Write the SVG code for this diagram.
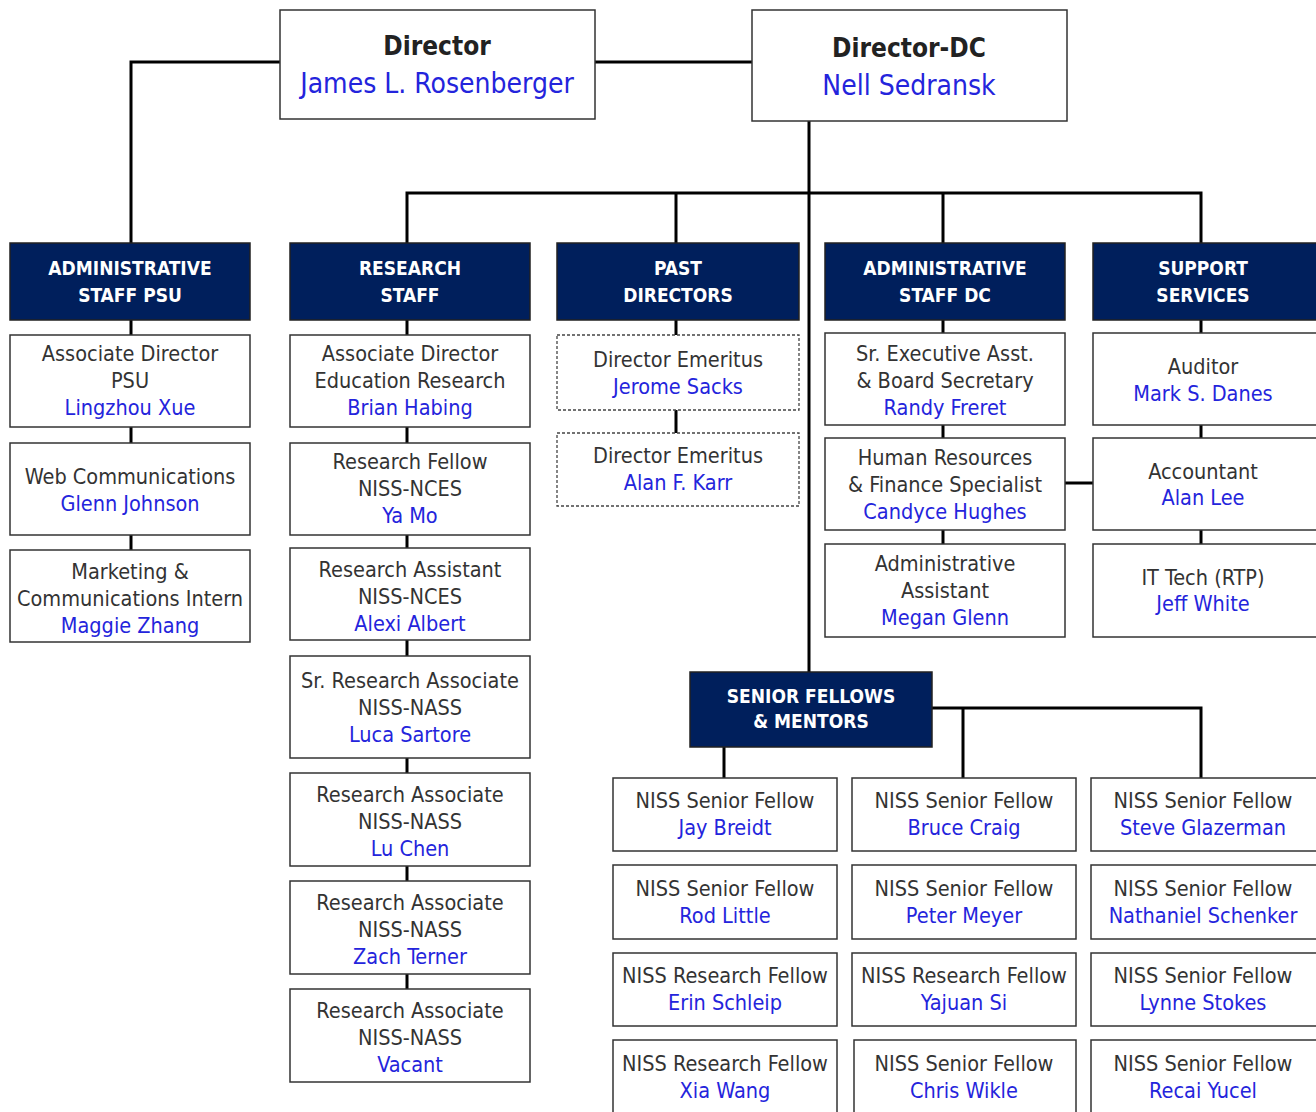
<svg xmlns="http://www.w3.org/2000/svg" width="1316" height="1112" viewBox="0 0 1316 1112">
<style>
.box{fill:#fff;stroke:#333;stroke-width:1.5}
.dash{fill:#fff;stroke:#444;stroke-width:1.3;stroke-dasharray:3 2}
.hdr{fill:#001f5c;stroke:#222;stroke-width:1.5}
.c{fill:none;stroke:#000;stroke-width:3}
text{font-family:"DejaVu Sans Condensed","DejaVu Sans",sans-serif;text-anchor:middle}
.t{font-size:21.5px;fill:#333}
.n{font-size:21.5px;fill:#2424dc}
.h{font-size:19px;fill:#fff;font-weight:bold}
.dt{font-size:26px;fill:#222;font-weight:bold}
.dn{font-size:28px;fill:#2424dc}
</style>
<g id="connectors">
<path class="c" d="M280 62H131V243M595 62H752M809 121V672M407 243V193H1201V243M676 193V243M943 193V243"/>
<path class="c" d="M131 320V335M131 427V443M131 535V550"/>
<path class="c" d="M407 320V335M407 427V443M407 535V548M407 640V656M407 758V773M407 866V881M407 974V989"/>
<path class="c" d="M676 320V335M676 410V433"/>
<path class="c" d="M943 320V333M943 425V438M943 530V544M1065 483H1093"/>
<path class="c" d="M1201 320V333M1201 425V438M1201 530V544"/>
<path class="c" d="M724 747V778M932 708H1201V778M963 708V778"/>
</g>
<g id="director"><rect class="box" x="280" y="10" width="315" height="109"/><text class="dt" x="437" y="55">Director</text><text class="dn" x="437" y="93">James L. Rosenberger</text></g>
<g id="director-dc"><rect class="box" x="752" y="10" width="315" height="111"/><text class="dt" x="909" y="57">Director-DC</text><text class="dn" x="909" y="95">Nell Sedransk</text></g>

<g id="hdr-admin-psu"><rect class="hdr" x="10" y="243" width="240" height="77"/><text class="h" x="130" y="275">ADMINISTRATIVE</text><text class="h" x="130" y="302">STAFF PSU</text></g>
<g id="hdr-research"><rect class="hdr" x="290" y="243" width="240" height="77"/><text class="h" x="410" y="275">RESEARCH</text><text class="h" x="410" y="302">STAFF</text></g>
<g id="hdr-past"><rect class="hdr" x="557" y="243" width="242" height="77"/><text class="h" x="678" y="275">PAST</text><text class="h" x="678" y="302">DIRECTORS</text></g>
<g id="hdr-admin-dc"><rect class="hdr" x="825" y="243" width="240" height="77"/><text class="h" x="945" y="275">ADMINISTRATIVE</text><text class="h" x="945" y="302">STAFF DC</text></g>
<g id="hdr-support"><rect class="hdr" x="1093" y="243" width="240" height="77"/><text class="h" x="1203" y="275">SUPPORT</text><text class="h" x="1203" y="302">SERVICES</text></g>

<g id="psu-1"><rect class="box" x="10" y="335" width="240" height="92"/><text class="t" x="130" y="361">Associate Director</text><text class="t" x="130" y="388">PSU</text><text class="n" x="130" y="415">Lingzhou Xue</text></g>
<g id="psu-2"><rect class="box" x="10" y="443" width="240" height="92"/><text class="t" x="130" y="484">Web Communications</text><text class="n" x="130" y="511">Glenn Johnson</text></g>
<g id="psu-3"><rect class="box" x="10" y="550" width="240" height="92"/><text class="t" x="130" y="579">Marketing &amp;</text><text class="t" x="130" y="606">Communications Intern</text><text class="n" x="130" y="633">Maggie Zhang</text></g>

<g id="rs-1"><rect class="box" x="290" y="335" width="240" height="92"/><text class="t" x="410" y="361">Associate Director</text><text class="t" x="410" y="388">Education Research</text><text class="n" x="410" y="415">Brian Habing</text></g>
<g id="rs-2"><rect class="box" x="290" y="443" width="240" height="92"/><text class="t" x="410" y="469">Research Fellow</text><text class="t" x="410" y="496">NISS-NCES</text><text class="n" x="410" y="523">Ya Mo</text></g>
<g id="rs-3"><rect class="box" x="290" y="548" width="240" height="92"/><text class="t" x="410" y="577">Research Assistant</text><text class="t" x="410" y="604">NISS-NCES</text><text class="n" x="410" y="631">Alexi Albert</text></g>
<g id="rs-4"><rect class="box" x="290" y="656" width="240" height="102"/><text class="t" x="410" y="688">Sr. Research Associate</text><text class="t" x="410" y="715">NISS-NASS</text><text class="n" x="410" y="742">Luca Sartore</text></g>
<g id="rs-5"><rect class="box" x="290" y="773" width="240" height="93"/><text class="t" x="410" y="802">Research Associate</text><text class="t" x="410" y="829">NISS-NASS</text><text class="n" x="410" y="856">Lu Chen</text></g>
<g id="rs-6"><rect class="box" x="290" y="881" width="240" height="93"/><text class="t" x="410" y="910">Research Associate</text><text class="t" x="410" y="937">NISS-NASS</text><text class="n" x="410" y="964">Zach Terner</text></g>
<g id="rs-7"><rect class="box" x="290" y="989" width="240" height="93"/><text class="t" x="410" y="1018">Research Associate</text><text class="t" x="410" y="1045">NISS-NASS</text><text class="n" x="410" y="1072">Vacant</text></g>

<g id="past-1"><rect class="dash" x="557" y="335" width="242" height="75"/><text class="t" x="678" y="367">Director Emeritus</text><text class="n" x="678" y="394">Jerome Sacks</text></g>
<g id="past-2"><rect class="dash" x="557" y="433" width="242" height="73"/><text class="t" x="678" y="463">Director Emeritus</text><text class="n" x="678" y="490">Alan F. Karr</text></g>

<g id="dc-1"><rect class="box" x="825" y="333" width="240" height="92"/><text class="t" x="945" y="361">Sr. Executive Asst.</text><text class="t" x="945" y="388">&amp;  Board Secretary</text><text class="n" x="945" y="415">Randy Freret</text></g>
<g id="dc-2"><rect class="box" x="825" y="438" width="240" height="92"/><text class="t" x="945" y="465">Human Resources</text><text class="t" x="945" y="492">&amp; Finance Specialist</text><text class="n" x="945" y="519">Candyce Hughes</text></g>
<g id="dc-3"><rect class="box" x="825" y="544" width="240" height="93"/><text class="t" x="945" y="571">Administrative</text><text class="t" x="945" y="598">Assistant</text><text class="n" x="945" y="625">Megan Glenn</text></g>

<g id="sup-1"><rect class="box" x="1093" y="333" width="240" height="92"/><text class="t" x="1203" y="374">Auditor</text><text class="n" x="1203" y="401">Mark S. Danes</text></g>
<g id="sup-2"><rect class="box" x="1093" y="438" width="240" height="92"/><text class="t" x="1203" y="479">Accountant</text><text class="n" x="1203" y="505">Alan Lee</text></g>
<g id="sup-3"><rect class="box" x="1093" y="544" width="240" height="93"/><text class="t" x="1203" y="585">IT Tech (RTP)</text><text class="n" x="1203" y="611">Jeff White</text></g>

<g id="hdr-senior"><rect class="hdr" x="690" y="672" width="242" height="75"/><text class="h" x="811" y="703">SENIOR FELLOWS</text><text class="h" x="811" y="728">&amp; MENTORS</text></g>

<g id="sf-1"><rect class="box" x="613" y="778" width="224" height="73"/><text class="t" x="725" y="808">NISS Senior Fellow</text><text class="n" x="725" y="835">Jay Breidt</text></g>
<g id="sf-2"><rect class="box" x="852" y="778" width="224" height="73"/><text class="t" x="964" y="808">NISS Senior Fellow</text><text class="n" x="964" y="835">Bruce Craig</text></g>
<g id="sf-3"><rect class="box" x="1091" y="778" width="240" height="73"/><text class="t" x="1203" y="808">NISS Senior Fellow</text><text class="n" x="1203" y="835">Steve Glazerman</text></g>
<g id="sf-4"><rect class="box" x="613" y="865" width="224" height="74"/><text class="t" x="725" y="896">NISS Senior Fellow</text><text class="n" x="725" y="923">Rod Little</text></g>
<g id="sf-5"><rect class="box" x="852" y="865" width="224" height="74"/><text class="t" x="964" y="896">NISS Senior Fellow</text><text class="n" x="964" y="923">Peter Meyer</text></g>
<g id="sf-6"><rect class="box" x="1091" y="865" width="240" height="74"/><text class="t" x="1203" y="896">NISS Senior Fellow</text><text class="n" x="1203" y="923">Nathaniel Schenker</text></g>
<g id="sf-7"><rect class="box" x="613" y="953" width="224" height="73"/><text class="t" x="725" y="983">NISS Research Fellow</text><text class="n" x="725" y="1010">Erin Schleip</text></g>
<g id="sf-8"><rect class="box" x="852" y="953" width="224" height="73"/><text class="t" x="964" y="983">NISS Research Fellow</text><text class="n" x="964" y="1010">Yajuan Si</text></g>
<g id="sf-9"><rect class="box" x="1091" y="953" width="240" height="73"/><text class="t" x="1203" y="983">NISS Senior Fellow</text><text class="n" x="1203" y="1010">Lynne Stokes</text></g>
<g id="sf-10"><rect class="box" x="613" y="1040" width="224" height="80"/><text class="t" x="725" y="1071">NISS Research Fellow</text><text class="n" x="725" y="1098">Xia Wang</text></g>
<g id="sf-11"><rect class="box" x="854" y="1040" width="222" height="80"/><text class="t" x="964" y="1071">NISS Senior Fellow</text><text class="n" x="964" y="1098">Chris Wikle</text></g>
<g id="sf-12"><rect class="box" x="1091" y="1040" width="240" height="80"/><text class="t" x="1203" y="1071">NISS Senior Fellow</text><text class="n" x="1203" y="1098">Recai Yucel</text></g>
</svg>
